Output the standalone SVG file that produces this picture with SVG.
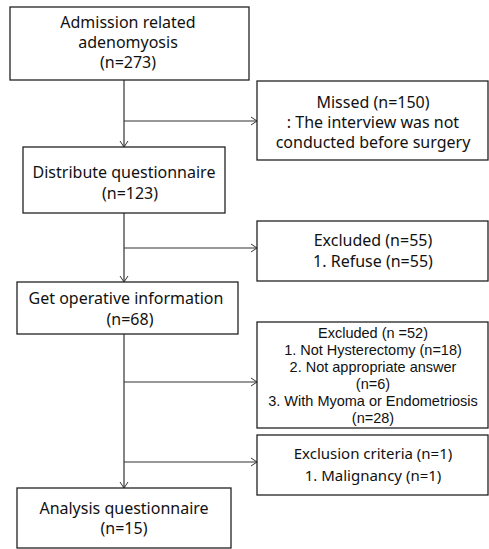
<svg xmlns="http://www.w3.org/2000/svg" width="489" height="549" viewBox="0 0 489 549">
<defs>
<marker id="arr" markerWidth="10" markerHeight="10" refX="9" refY="5" orient="auto" markerUnits="userSpaceOnUse">
<path d="M3,1 L9,5 L3,9" fill="none" stroke="#333" stroke-width="1"/>
</marker>
</defs>
<style>
.box{fill:#fff;stroke:#222;stroke-width:1.3}
.t{font-family:"Noto Sans","Open Sans",sans-serif;font-size:16px;fill:#111;text-anchor:middle}
.s{font-family:"Liberation Sans","Noto Sans",sans-serif;font-size:14.5px}
.m{font-size:15px}
.c{fill:none;stroke:#333;stroke-width:1.2}
</style>
<rect width="489" height="549" fill="#fff"/>
<g id="connectors">
<path class="c" d="M124,80 V147" marker-end="url(#arr)"/>
<path class="c" d="M124,121 H257" marker-end="url(#arr)"/>
<path class="c" d="M124,213 V282" marker-end="url(#arr)"/>
<path class="c" d="M124,248 H257" marker-end="url(#arr)"/>
<path class="c" d="M124,334 V488" marker-end="url(#arr)"/>
<path class="c" d="M124,382 H257" marker-end="url(#arr)"/>
<path class="c" d="M124,462 H257" marker-end="url(#arr)"/>
</g>
<g id="admission">
<rect class="box" x="10" y="7" width="239" height="73"/>
<text class="t" x="128" y="28">Admission related</text>
<text class="t" x="128" y="48">adenomyosis</text>
<text class="t" x="128" y="68">(n=273)</text>
</g>
<g id="missed">
<rect class="box" x="257" y="81" width="231" height="79"/>
<text class="t" x="373" y="108">Missed (n=150)</text>
<text class="t" x="373" y="128">: The interview was not</text>
<text class="t" x="373" y="148">conducted before surgery</text>
</g>
<g id="distribute">
<rect class="box" x="23" y="147" width="202" height="66"/>
<text class="t" x="124" y="178">Distribute questionnaire</text>
<text class="t" x="130" y="199">(n=123)</text>
</g>
<g id="excluded55">
<rect class="box" x="257" y="221" width="231" height="60"/>
<text class="t" x="373" y="246">Excluded (n=55)</text>
<text class="t" x="373" y="267">1. Refuse (n=55)</text>
</g>
<g id="operative">
<rect class="box" x="17" y="282" width="221" height="52"/>
<text class="t" x="126" y="304">Get operative information</text>
<text class="t" x="130" y="325">(n=68)</text>
</g>
<g id="excluded52">
<rect class="box" x="257" y="322" width="231" height="106"/>
<text class="t s" x="373" y="338">Excluded (n =52)</text>
<text class="t s" x="373" y="355">1. Not Hysterectomy (n=18)</text>
<text class="t s" x="373" y="372">2. Not appropriate answer</text>
<text class="t s" x="373" y="389">(n=6)</text>
<text class="t s" x="373" y="406">3. With Myoma or Endometriosis</text>
<text class="t s" x="373" y="423">(n=28)</text>
</g>
<g id="exclusion">
<rect class="box" x="257" y="435" width="231" height="60"/>
<text class="t m" x="373" y="459">Exclusion criteria (n=1)</text>
<text class="t m" x="373" y="481">1. Malignancy (n=1)</text>
</g>
<g id="analysis">
<rect class="box" x="17" y="488" width="214" height="60"/>
<text class="t" x="124" y="514">Analysis questionnaire</text>
<text class="t" x="124" y="534">(n=15)</text>
</g>
</svg>
